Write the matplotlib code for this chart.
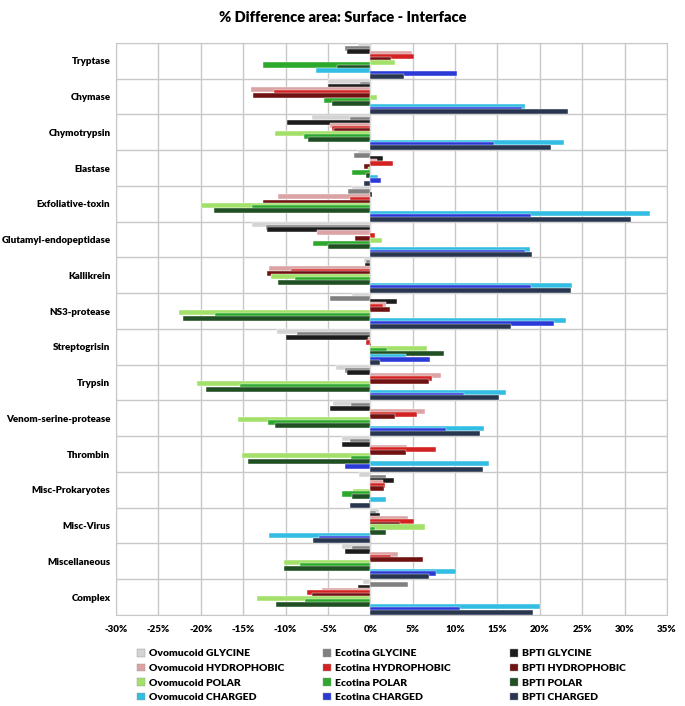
import numpy as np
import matplotlib.pyplot as plt
from matplotlib.patches import Patch

plt.rcParams['font.family'] = ['Lato', 'DejaVu Sans']
plt.rcParams['font.weight'] = 'bold'

categories = ["Tryptase", "Chymase", "Chymotrypsin", "Elastase", "Exfoliative-toxin",
              "Glutamyl-endopeptidase", "Kallikrein", "NS3-protease", "Streptogrisin",
              "Trypsin", "Venom-serine-protease", "Thrombin", "Misc-Prokaryotes",
              "Misc-Virus", "Miscellaneous", "Complex"]

series_names = ["Ovomucoid GLYCINE", "Ecotina GLYCINE", "BPTI GLYCINE",
                "Ovomucoid HYDROPHOBIC", "Ecotina HYDROPHOBIC", "BPTI HYDROPHOBIC",
                "Ovomucoid POLAR", "Ecotina POLAR", "BPTI POLAR",
                "Ovomucoid CHARGED", "Ecotina CHARGED", "BPTI CHARGED"]

# values in %, one list per series, same order as categories
ovo_gly = [-1.5, -5.0, -6.9, -1.4, -2.2, -14.0, -0.8, -2.2, -11.0, -4.0, -4.4, -3.3, -1.3, 1.0, -3.3, -0.9]
eco_gly = [-3.0, -1.2, -2.4, -1.9, -2.6, -12.3, -0.5, -4.7, -8.7, -3.0, -2.3, -2.4, 1.8, 0.7, -2.2, 4.4]
bpti_gly = [-2.7, -5.0, -9.8, 1.5, 0.2, -12.2, -0.6, 3.1, -9.9, -2.8, -4.7, -3.3, 2.8, 1.2, -3.0, -1.4]
ovo_hyd = [4.9, -14.1, -4.7, 0.8, -10.9, -6.3, -12.0, 1.8, -0.3, 8.3, 6.5, 4.3, 1.5, 4.4, 3.3, -5.7]
eco_hyd = [5.2, -11.3, -4.5, 2.7, -2.4, 0.6, -9.4, 1.5, -0.5, 7.3, 5.5, 7.7, 1.7, 5.1, 2.4, -7.5]
bpti_hyd = [2.4, -13.8, -4.3, -0.7, -12.7, -1.8, -12.2, 2.3, 0.1, 6.9, 2.9, 4.2, 1.6, 3.5, 6.2, -6.9]
ovo_pol = [2.95, 0.8, -11.2, -0.3, -20.0, 1.4, -11.7, -22.6, 6.7, -20.5, -15.6, -15.1, -2.0, 6.5, -10.2, -13.4]
eco_pol = [-12.6, -5.5, -7.8, -2.2, -14.0, -6.8, -8.9, -18.3, 2.0, -15.4, -12.1, -2.3, -3.3, 0.6, -8.3, -7.7]
bpti_pol = [-3.9, -4.5, -7.3, -0.5, -18.4, -5.0, -10.9, -22.1, 8.7, -19.4, -11.2, -14.4, -2.1, 1.9, -10.2, -11.1]
ovo_chg = [-6.4, 18.3, 22.8, 0.9, 33.0, 18.8, 23.8, 23.1, 4.2, 16.0, 13.4, 14.0, 1.8, -12.0, 10.1, 20.0]
eco_chg = [10.2, 17.9, 14.6, 1.3, 18.9, 18.3, 19.0, 21.7, 7.1, 11.1, 8.9, -3.0, -0.1, -6.0, 7.8, 10.6]
bpti_chg = [4.0, 23.3, 21.3, -0.8, 30.8, 19.1, 23.7, 16.6, 1.1, 15.2, 13.0, 13.3, -2.4, -6.7, 6.9, 19.2]

series = [ovo_gly, eco_gly, bpti_gly, ovo_hyd, eco_hyd, bpti_hyd,
          ovo_pol, eco_pol, bpti_pol, ovo_chg, eco_chg, bpti_chg]

colors = ["#d4d4d4", "#808080", "#1c1c1c",
          "#dba3a3", "#d42222", "#701212",
          "#a2e06a", "#2ca82c", "#1f4f22",
          "#33bde3", "#2b39d6", "#283650"]

fig = plt.figure(figsize=(6.85, 7.06), dpi=100)
ax = fig.add_axes([0.1693, 0.1289, 0.8044, 0.8102])

ypos = np.arange(len(categories))
step = 0.077
bar_h = 0.14
for i, (vals, c) in enumerate(zip(series, colors)):
    off = (i - 5.5) * step
    ax.barh(ypos + off, vals, height=bar_h, color=c, edgecolor='white',
            linewidth=0.3, zorder=3)

ax.set_ylim(len(categories) - 0.5, -0.5)
ax.set_xlim(-30, 35)
ax.set_xticks(np.arange(-30, 36, 5))
ax.set_xticklabels([f"{t}%" for t in range(-30, 36, 5)], fontsize=7, fontweight='heavy')
ax.set_yticks(ypos)
ax.set_yticklabels(categories, fontsize=7, fontweight='heavy')
ax.set_yticks(np.arange(len(categories) + 1) - 0.5, minor=True)
ax.tick_params(axis='y', which='both', length=0, pad=4)
ax.tick_params(axis='x', which='both', length=0, pad=7)
ax.grid(axis='x', color='#c8c8c8', linewidth=1.0, zorder=0)
ax.grid(axis='y', which='minor', color='#c8c8c8', linewidth=1.0, zorder=0)
for s in ax.spines.values():
    s.set_color('#c8c8c8')

fig.suptitle("% Difference area: Surface - Interface", y=0.985, fontsize=10.5,
             fontweight='heavy')

col_x = [132, 318, 505]
for k in range(3):
    handles = [Patch(facecolor=colors[k + 3 * r], edgecolor='#999999', linewidth=0.3)
               for r in range(4)]
    labels = [series_names[k + 3 * r] for r in range(4)]
    fig.legend(handles, labels, loc='upper left',
               bbox_to_anchor=(col_x[k] / 685, 1 - 644 / 706),
               frameon=False, handlelength=0.7, handleheight=0.7,
               handletextpad=0.4, labelspacing=0.5, borderpad=0,
               prop={'weight': 'heavy', 'size': 7.5})

fig.savefig("out.png", dpi=100)
